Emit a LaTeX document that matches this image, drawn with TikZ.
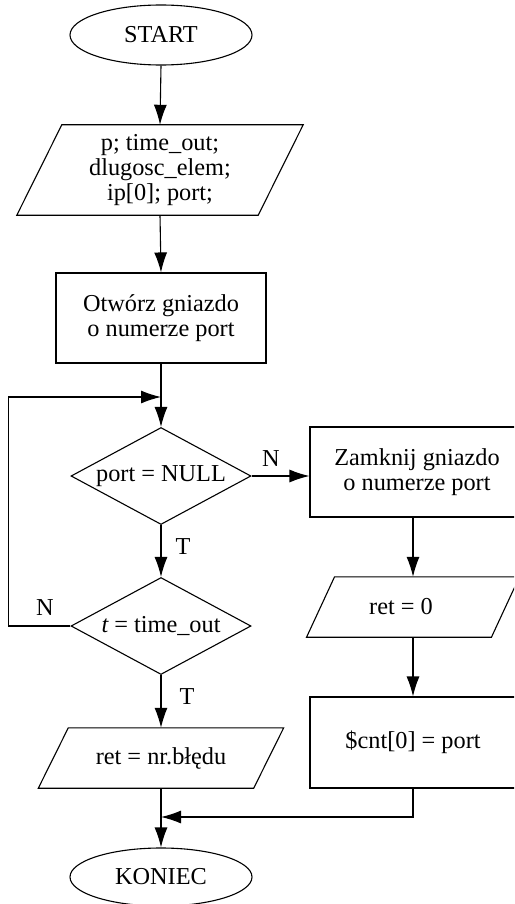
\documentclass[tikz,border=0pt]{standalone}
\usepackage{fontspec}
\setmainfont{Liberation Serif}
\usetikzlibrary{shapes.geometric,arrows.meta,calc}
\tikzset{
  every node/.style={font=\fontsize{24.3}{24.8}\selectfont, inner sep=0pt, align=center},
  line/.style={line width=1.1pt, draw=black},
  arr/.style={line, -{Latex[length=20pt,width=13pt]}},
  term/.style={ellipse, draw, line width=1.1pt, minimum width=182pt, minimum height=60pt},
  proc/.style={rectangle, draw, line width=1.1pt},
  dec/.style={diamond, draw, line width=1.1pt, minimum width=180pt, minimum height=97pt, aspect=1.86},
  iotext/.style={rectangle, draw=none},
  lbl/.style={font=\fontsize{24.3}{24.8}\selectfont}
}
\newcommand\ioshape[2]{\draw[line] ([xshift=#2]#1.north west) -- ([xshift=#2]#1.north east) -- ([xshift=-#2]#1.south east) -- ([xshift=-#2]#1.south west) -- cycle;}
\begin{document}
\begin{tikzpicture}[x=1pt,y=-1pt]
\useasboundingbox (0,0) rectangle (514,904);
\clip (0,0) rectangle (514,904);
% nodes
\node[term] (start) at (161,35) {START};
\node[iotext, minimum width=241pt, minimum height=90pt] (in1) at (160,170) {p; time\_out;\\dlugosc\_elem;\\ip[0]; port;};
\ioshape{in1}{22.5pt}
\node[proc, minimum width=210pt, minimum height=90pt] (r1) at (161,318) {Otwórz gniazdo\\o numerze port};
\node[dec] (d1) at (161,476) {port = NULL};
\node[dec] (d2) at (161,626) {{\itshape t} = time\_out};
\node[proc, minimum width=206pt, minimum height=90pt] (r2) at (413,472) {\hspace*{8pt}Zamknij gniazdo\\\hspace*{8pt}o numerze port};
\node[iotext, minimum width=184.5pt, minimum height=60pt] (in2) at (413,607) {ret = 0\hspace*{24pt}};
\ioshape{in2}{14pt}
\node[proc, minimum width=206pt, minimum height=91pt] (r3) at (413,742.5) {\$cnt[0] = port};
\node[iotext, minimum width=215pt, minimum height=60pt] (in3) at (161,758) {ret = nr.błędu};
\ioshape{in3}{15pt}
\node[term, minimum height=58pt] (end) at (161,877) {KONIEC};
% junction coordinates
\coordinate (j1) at (161,397);
\coordinate (j2) at (161,817);
% connectors
\draw[arr] (start.south) -- (in1.north);
\draw[arr] (in1.south) -- (r1.north);
\draw[arr] (r1.south) -- (d1.north);
\draw[arr] (d1.south) -- (d2.north);
\draw[arr] (d1.east) -- (d1.east -| r2.west);
\draw[arr] (d2.west) -- ++(-62,0) |- (j1);
\draw[arr] (d2.south) -- (in3.north);
\draw[arr] (r2.south) -- (in2.north);
\draw[arr] (in2.south) -- (r3.north);
\draw[arr] (r3.south) |- (j2);
\draw[arr] (in3.south) -- (end.north);
% labels
\node[lbl] (lN1) at (271,459) {N};
\node[lbl] (lT1) at (183,547) {T};
\node[lbl] (lN2) at (45,608) {N};
\node[lbl] (lT2) at (187,697) {T};
\end{tikzpicture}
\end{document}
